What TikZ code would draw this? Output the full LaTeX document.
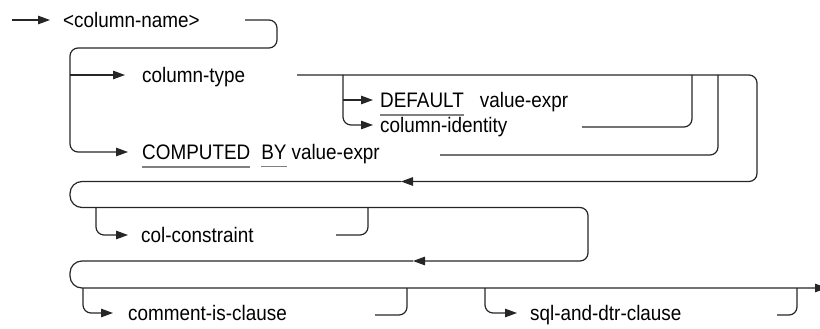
\documentclass[tikz,border=0pt]{standalone}
\usepackage{fontspec}
\setmainfont{Liberation Sans}[FakeStretch=0.9]
\usetikzlibrary{arrows.meta}
\definecolor{railline}{gray}{0.15}
\definecolor{kwrule}{gray}{0.5}
% keyword with the grey rule below it
\newcommand{\kw}[1]{\vtop{\hbox{#1}\kern6.5pt{\color{kwrule}\hrule height 1.3pt}}}

\tikzset{
    rail/.style={line width=1.2pt, draw=railline, rounded corners=8pt},
    arr/.style={rail, -{Triangle[length=12pt,width=8.5pt]}},
    lbl/.style={inner sep=0pt, anchor=west, text height=15pt, text depth=0pt,
        font=\fontsize{21}{25}\selectfont},
}

\begin{document}
\begin{tikzpicture}[x=1pt,y=-1pt]
    \useasboundingbox (0,0) rectangle (820,329);
    %labels
    \node[lbl] (cname) at (63,20) {<column-name>};
    \node[lbl] (ctype) at (142,75) {column-type};
    \node[lbl] (dflt) at (380,100) {\kw{DEFAULT}\hspace{16pt}value-expr};
    \node[lbl] (cident) at (380,125) {column-identity};
    \node[lbl] (cmptd) at (142,152) {\kw{COMPUTED}\hspace{11pt}\kw{BY}\hspace{5pt}value-expr};
    \node[lbl] (cconst) at (141,235) {col-constraint};
    \node[lbl] (cmnt) at (128,313) {comment-is-clause};
    \node[lbl] (sqldtr) at (530,313) {sql-and-dtr-clause};
    %row 1
    \coordinate (start) at (12,20);
    \coordinate (cnameend) at (245,20);
    \coordinate (ctypeend) at (297,75);
    \coordinate (dsplit) at (343,75);
    \coordinate (dfork) at (343,100);
    \coordinate (cidentend) at (582,127);
    \coordinate (cmptdend) at (440,155);
    \coordinate (back1) at (401,181.5);
    \draw[arr] (start) -- ([xshift=-13pt]cname.west);
    \draw[arr] (cnameend) -- (277,20) -- (277,48) -- (70,48) -- (70,152) -- ([xshift=-14pt]cmptd.west);
    \draw[arr] (70,75) -- ([xshift=-17pt]ctype.west);
    \draw[arr] (dsplit) -- (343,125) -- ([xshift=-7pt]cident.west);
    \draw[arr] (dfork) -- ([xshift=-7pt]dflt.west);
    \draw[rail] (cidentend) -- (692,127) -- (692,75);
    \draw[rail] (cmptdend) -- (718,155) -- (718,75);
    \draw[arr] (ctypeend) -- (757,75) -- (757,181.5) -- (back1);
    %row 2
    \coordinate (cconstfork) at (96,207.5);
    \coordinate (cconstend) at (336,235);
    \coordinate (back2) at (413,261);
    \draw[arr] (back1) [rounded corners=12pt] -- (70,181.5) -- (70,207.5)
        [rounded corners=8pt] -- (588,207.5) -- (588,261) -- (back2);
    \draw[arr] (cconstfork) -- (96,235) -- ([xshift=-13pt]cconst.west);
    \draw[rail] (cconstend) -- (368,235) -- (368,207.5);
    %row 3
    \coordinate (cmntfork) at (83,288);
    \coordinate (cmntend) at (375,315);
    \coordinate (sqlfork) at (485,288);
    \coordinate (sqlend) at (777,315);
    \coordinate (finish) at (827,288);
    \draw[arr] (back2) [rounded corners=12pt] -- (70,261) -- (70,288) -- (finish);
    \draw[arr] (cmntfork) -- (83,313) -- ([xshift=-15pt]cmnt.west);
    \draw[rail] (cmntend) -- (407,315) -- (407,288);
    \draw[arr] (sqlfork) -- (485,313) -- ([xshift=-13pt]sqldtr.west);
    \draw[rail] (sqlend) -- (797,315) -- (797,288);
\end{tikzpicture}
\end{document}
